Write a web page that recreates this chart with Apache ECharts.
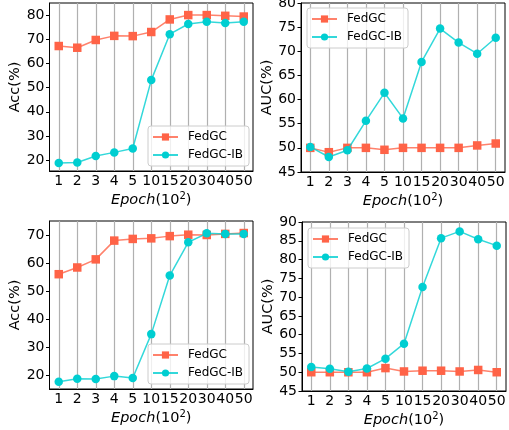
<!DOCTYPE html>
<html>
<head>
<meta charset="utf-8">
<script src="https://cdn.jsdelivr.net/npm/echarts@6/dist/echarts.min.js"></script>
<style>html,body{margin:0;padding:0;background:#fff;}#c{width:509px;height:430px;}</style>
</head>
<body>
<div id="c"></div>
<script>
var categories = ['1','2','3','4','5','10','15','20','30','40','50'];
var acc1FedGC = [67.2, 66.5, 69.7, 71.4, 71.3, 73.0, 78.2, 80.0, 80.0, 79.7, 79.4];
var acc1IB    = [18.8, 19.0, 21.7, 23.2, 24.8, 53.1, 72.1, 76.3, 77.2, 76.7, 77.2];
var auc1FedGC = [50.0, 49.1, 50.0, 50.0, 49.6, 50.0, 50.0, 50.0, 50.0, 50.5, 50.9];
var auc1IB    = [50.2, 48.1, 49.5, 55.6, 61.4, 56.1, 67.8, 74.7, 71.8, 69.5, 72.8];
var acc2FedGC = [56.0, 58.4, 61.3, 68.0, 68.6, 68.8, 69.6, 70.1, 70.0, 70.4, 70.7];
var acc2IB    = [17.6, 18.7, 18.6, 19.6, 18.9, 34.6, 55.5, 67.4, 70.6, 70.4, 70.4];
var auc2FedGC = [50.0, 50.0, 50.0, 50.0, 51.1, 50.2, 50.4, 50.4, 50.2, 50.6, 50.0];
var auc2IB    = [51.4, 50.9, 50.1, 51.0, 53.6, 57.6, 72.7, 85.7, 87.5, 85.4, 83.7];
var accTicks1 = [20, 30, 40, 50, 60, 70, 80];
var accTicks2 = [20, 30, 40, 50, 60, 70];

var FONT = 'DejaVu Sans';
var RED = '#FF6347', CYAN = '#00CED1';

var panels = [
  {grid:{left:49.5, top:3, width:203.5, height:168}, y:{min:15.5, max:85, ticks:accTicks1, name:'Acc(%)'}, a:acc1FedGC, b:acc1IB, legend:{left:148, top:126}},
  {grid:{left:301, top:3, width:204, height:169}, y:{min:45, max:80, interval:5, name:'AUC(%)'}, a:auc1FedGC, b:auc1IB, legend:{left:307, top:8}},
  {grid:{left:49.5, top:221, width:203.5, height:168}, y:{min:15, max:75, ticks:accTicks2, name:'Acc(%)'}, a:acc2FedGC, b:acc2IB, legend:{left:148, top:344}},
  {grid:{left:302, top:222, width:204, height:169}, y:{min:45, max:90, interval:5, name:'AUC(%)'}, a:auc2FedGC, b:auc2IB, legend:{left:308, top:228}}
];

var option = {animation:false, backgroundColor:'#fff', textStyle:{fontFamily:FONT},
  grid:[], xAxis:[], yAxis:[], series:[], legend:[]};

panels.forEach(function(p, i){
  option.grid.push(Object.assign({show:true, borderColor:'#000', borderWidth:1, backgroundColor:'transparent', outerBoundsMode:'none', containLabel:false}, p.grid));
  option.xAxis.push({type:'category', gridIndex:i, data:categories, boundaryGap:true,
    name:'{i|Epoch}(10{s|2})', nameLocation:'middle', nameGap:20,
    nameTextStyle:{fontFamily:FONT, fontSize:14.5, color:'#000', rich:{
      i:{fontStyle:'italic', fontFamily:FONT, fontSize:14.5, color:'#000'},
      s:{fontFamily:FONT, fontSize:10, color:'#000', padding:[0,0,8,0]}}},
    axisLine:{lineStyle:{color:'#000', width:1}},
    axisTick:{alignWithLabel:true, length:3.5, lineStyle:{color:'#000'}},
    axisLabel:{interval:0, margin:3, fontFamily:FONT, fontSize:14, color:'#000'},
    splitLine:{show:false}});
  var y = {type:'value', gridIndex:i, min:p.y.min, max:p.y.max,
    name:p.y.name, nameLocation:'middle', nameRotate:90, nameGap:21,
    nameTextStyle:{fontFamily:FONT, fontSize:14.5, color:'#000'},
    axisLine:{show:true, lineStyle:{color:'#000', width:1}},
    axisTick:{show:true, length:3.5, lineStyle:{color:'#000'}},
    axisLabel:{margin:5, fontFamily:FONT, fontSize:14, color:'#000'},
    splitLine:{show:false}};
  if (p.y.ticks) {
    y.axisLabel.customValues = p.y.ticks;
    y.axisTick.customValues = p.y.ticks;
  } else {
    y.interval = p.y.interval;
  }
  option.yAxis.push(y);
  option.series.push({name:'FedGC', type:'line', xAxisIndex:i, yAxisIndex:i, data:p.a, z:3,
    symbol:'rect', symbolSize:8.5, itemStyle:{color:RED},
    lineStyle:{color:RED, width:1.5, opacity:0.8},
    markLine:{silent:true, symbol:'none', z:1, label:{show:false}, animation:false,
      lineStyle:{color:'#b0b0b0', width:1.2, type:'solid'},
      emphasis:{disabled:true},
      data:categories.map(function(c){return {xAxis:c};})}});
  option.series.push({name:'FedGC-IB', type:'line', xAxisIndex:i, yAxisIndex:i, data:p.b, z:4,
    symbol:'circle', symbolSize:8.5, itemStyle:{color:CYAN},
    lineStyle:{color:CYAN, width:1.5, opacity:0.8}});
  option.legend.push({orient:'vertical', left:p.legend.left, top:p.legend.top,
    data:['FedGC','FedGC-IB'], itemWidth:25, itemHeight:9, itemGap:4,
    padding:[4,6,4,4], backgroundColor:'rgba(255,255,255,0.8)', borderColor:'#cccccc', borderWidth:1, borderRadius:3,
    textStyle:{fontFamily:FONT, fontSize:12, color:'#000', lineHeight:14, padding:[0,0,0,5]},
    selectedMode:false});
});

var chart = echarts.init(document.getElementById('c'), null, {renderer:'canvas'});
chart.setOption(option);
</script>
</body>
</html>
